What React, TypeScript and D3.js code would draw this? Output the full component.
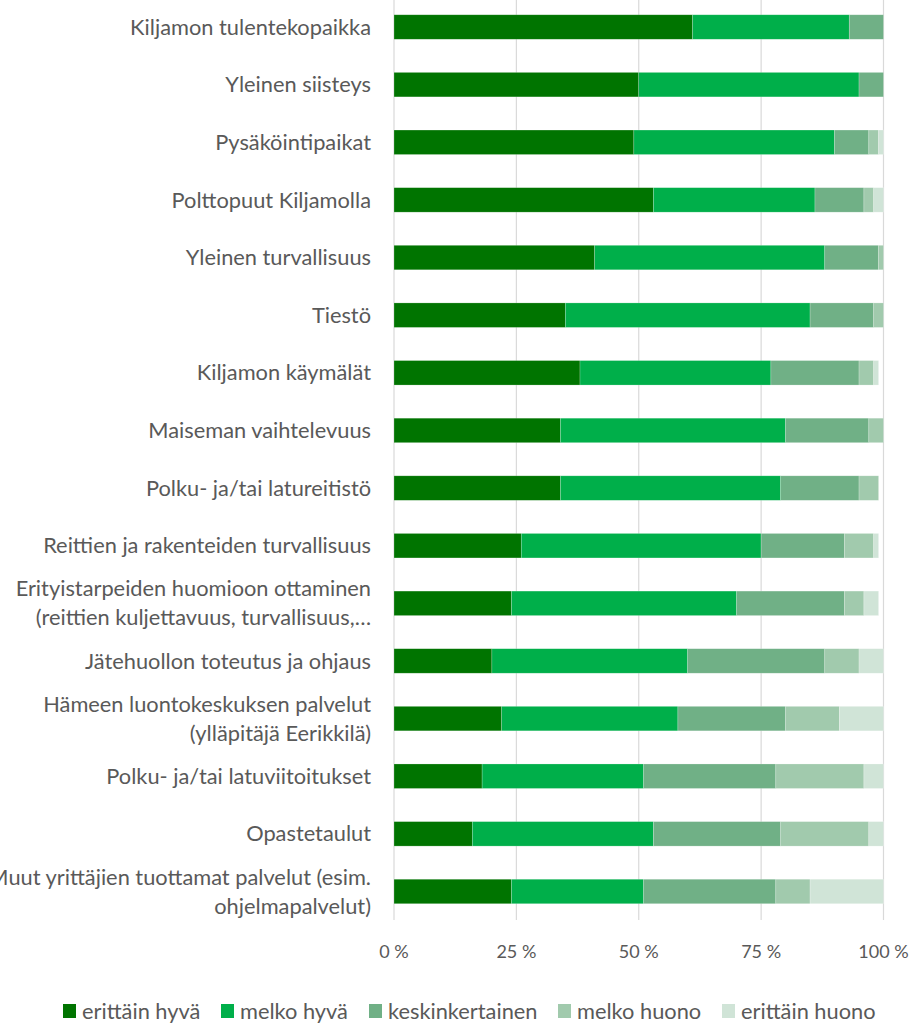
import React from "react";
import * as d3 from "d3";

const categories: string[] = [
  "Kiljamon tulentekopaikka",
  "Yleinen siisteys",
  "Pysäköintipaikat",
  "Polttopuut Kiljamolla",
  "Yleinen turvallisuus",
  "Tiestö",
  "Kiljamon käymälät",
  "Maiseman vaihtelevuus",
  "Polku- ja/tai latureitistö",
  "Reittien ja rakenteiden turvallisuus",
  "Erityistarpeiden huomioon ottaminen\n(reittien kuljettavuus, turvallisuus,…",
  "Jätehuollon toteutus ja ohjaus",
  "Hämeen luontokeskuksen palvelut\n(ylläpitäjä Eerikkilä)",
  "Polku- ja/tai latuviitoitukset",
  "Opastetaulut",
  "Muut yrittäjien tuottamat palvelut (esim.\nohjelmapalvelut)",
];

const erittainHyva = [61, 50, 49, 53, 41, 35, 38, 34, 34, 26, 24, 20, 22, 18, 16, 24];
const melkoHyva = [32, 45, 41, 33, 47, 50, 39, 46, 45, 49, 46, 40, 36, 33, 37, 27];
const keskinkertainen = [7, 5, 7, 10, 11, 13, 18, 17, 16, 17, 22, 28, 22, 27, 26, 27];
const melkoHuono = [0, 0, 2, 2, 1, 2, 3, 3, 4, 6, 4, 7, 11, 18, 18, 7];
const erittainHuono = [0, 0, 1, 2, 0, 0, 1, 0, 0, 1, 3, 5, 9, 4, 3, 15];

const seriesNames = ["erittäin hyvä", "melko hyvä", "keskinkertainen", "melko huono", "erittäin huono"];
const seriesColors = ["#007400", "#00AF4A", "#70B086", "#A1CAAD", "#D0E4D7"];
const tickValues = [0, 25, 50, 75, 100];
const tickLabels = ["0 %", "25 %", "50 %", "75 %", "100 %"];

const W = 914;
const H = 1023;
const FONT = "Lato, 'Open Sans', sans-serif";
const TEXT = "#595959";

export default function App() {
  const series = [erittainHyva, melkoHyva, keskinkertainen, melkoHuono, erittainHuono];
  const rows = categories.map((c, i) => {
    const o: Record<string, number | string> = { cat: c };
    seriesNames.forEach((s, k) => (o[s] = series[k][i]));
    return o;
  });
  const stacked = d3.stack<any>().keys(seriesNames)(rows as any);

  const x = d3.scaleLinear().domain([0, 100]).range([394, 883.5]);
  const y = d3
    .scaleBand<string>()
    .domain(categories)
    .range([-1.8, 920.3])
    .paddingInner(0.575)
    .paddingOuter(0.2875);

  const legendX = [63, 221, 369, 558, 722];

  return (
    <svg
      width={W}
      height={H}
      style={{ position: "absolute", left: 0, top: 0, background: "#fff" }}
      fontFamily={FONT}
    >
      <rect x={0} y={0} width={W} height={H} fill="#fff" />
      {tickValues.map((t) => (
        <line key={t} x1={x(t)} x2={x(t)} y1={0} y2={920} stroke="#D9D9D9" strokeWidth={1.2} />
      ))}
      {stacked.map((s, k) => (
        <g key={k} fill={seriesColors[k]}>
          {s.map((d, i) =>
            d[1] - d[0] > 0 ? (
              <rect
                key={i}
                x={x(d[0])}
                width={x(d[1]) - x(d[0])}
                y={y(categories[i])!}
                height={y.bandwidth()}
                stroke="#ffffff"
                strokeOpacity={0.35}
                strokeWidth={0.6}
              />
            ) : null
          )}
        </g>
      ))}
      {categories.map((c) => {
        const lines = c.split("\n");
        const cy = y(c)! + y.bandwidth() / 2;
        const lh = 29;
        return (
          <text key={c} x={371} textAnchor="end" fontSize={21.8} fill={TEXT}>
            {lines.map((l, j) => (
              <tspan key={j} x={371} y={cy + (j - (lines.length - 1) / 2) * lh} dy="0.35em">
                {l}
              </tspan>
            ))}
          </text>
        );
      })}
      {tickValues.map((t, i) => (
        <text key={t} x={x(t)} y={952} dy="0.35em" textAnchor="middle" fontSize={18} fill={TEXT}>
          {tickLabels[i]}
        </text>
      ))}
      {seriesNames.map((s, k) => (
        <g key={s} transform={`translate(${legendX[k]},1011)`}>
          <rect x={0} y={-7} width={13} height={14} fill={seriesColors[k]} />
          <text x={19} y={0} dy="0.35em" fontSize={21.8} fill={TEXT}>
            {s}
          </text>
        </g>
      ))}
    </svg>
  );
}
